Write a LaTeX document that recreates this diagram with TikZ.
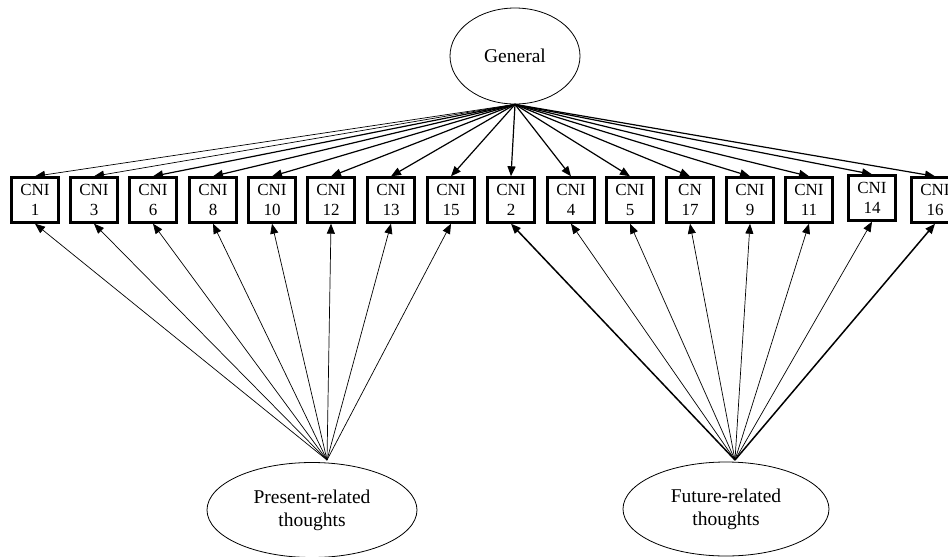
\documentclass[tikz,border=0pt]{standalone}
\usepackage{fontspec}
\setmainfont{Liberation Serif}
\usetikzlibrary{arrows.meta,shapes.geometric}
\tikzset{
  cni/.style={draw, line width=2.4pt, minimum width=47pt, minimum height=45pt,
    inner sep=0pt, align=center, font=\fontsize{17}{19.5}\selectfont},
  lat/.style={draw, ellipse, line width=0.8pt, inner sep=0pt, align=center,
    font=\fontsize{19.5}{23}\selectfont},
  load/.style={-{Triangle[length=10pt,width=8pt]}, line width=1.2pt},
  thinload/.style={load, line width=0.7pt},
  thickload/.style={load, line width=1.5pt},
}
\begin{document}
\begin{tikzpicture}[x=1pt,y=-1pt]
\useasboundingbox (0,0) rectangle (948,557);
% latent factors
\node[lat, minimum width=130pt, minimum height=96pt] (G) at (515,56) {General};
\node[lat, minimum width=210pt, minimum height=95pt] (P) at (312,510) {Present-related\\thoughts};
\node[lat, minimum width=206pt, minimum height=94pt] (F) at (726,509) {Future-related\\thoughts};
\coordinate (gA) at (G.south);
\coordinate (pA) at (327,460);
\coordinate (fA) at (735,460);
% indicators
\node[cni] (c1)  at (35,200)  {CNI\\1};
\node[cni] (c3)  at (94,200)  {CNI\\3};
\node[cni] (c6)  at (153,200) {CNI\\6};
\node[cni] (c8)  at (213,200) {CNI\\8};
\node[cni] (c10) at (272,200) {CNI\\10};
\node[cni] (c12) at (331,200) {CNI\\12};
\node[cni] (c13) at (391,200) {CNI\\13};
\node[cni] (c15) at (451,200) {CNI\\15};
\node[cni] (c2)  at (511,200) {CNI\\2};
\node[cni] (c4)  at (571,200) {CNI\\4};
\node[cni] (c5)  at (630,200) {CNI\\5};
\node[cni] (c17) at (690,200) {CN\\17};
\node[cni] (c9)  at (750,200) {CNI\\9};
\node[cni] (c11) at (809,200) {CNI\\11};
\node[cni] (c14) at (872,198) {CNI\\14};
\node[cni] (c16) at (935,200) {CNI\\16};
% general loadings
\draw[thinload] (gA) -- (c1.north);
\draw[thinload] (gA) -- (c3.north);
\foreach \n in {6,8,10,12,13,15,2,4,5,17,9,11,14,16}
  \draw[load] (gA) -- (c\n.north);
% present-related loadings
\foreach \n in {1,3,6,8,10,12,13,15}
  \draw[thinload] (pA) -- (c\n.south);
% future-related loadings
\draw[thickload] (fA) -- (c2.south);
\foreach \n in {4,5,17,9,11,14}
  \draw[thinload] (fA) -- (c\n.south);
\draw[thickload] (fA) -- (c16.south);
\end{tikzpicture}
\end{document}
